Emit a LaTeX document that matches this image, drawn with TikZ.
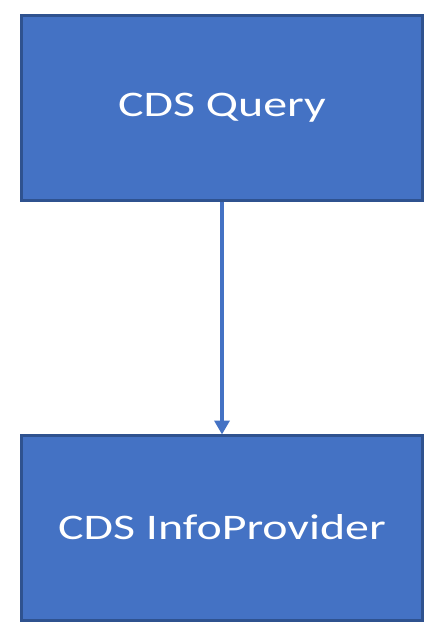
\documentclass[tikz,border=0pt]{standalone}
\usepackage{fontspec}
\setmainfont{Carlito}
\usetikzlibrary{arrows.meta}
\definecolor{boxfill}{HTML}{4472C4}
\definecolor{boxline}{HTML}{2F528F}
\newcommand{\widetext}[1]{\scalebox{1.33}[1]{#1}}
\tikzset{
  procbox/.style={draw=boxline, line width=3bp, fill=boxfill, text=white,
    minimum width=401bp, minimum height=185bp, inner sep=0pt,
    font=\fontsize{36bp}{43bp}\selectfont},
  link/.style={draw=boxfill, line width=4.5bp, -{Triangle[length=14bp,width=15bp]}, shorten >=-1bp}
}
\begin{document}
\begin{tikzpicture}[x=1bp,y=-1bp]
\useasboundingbox (0,0) rectangle (440,635);
\node[procbox] (q) at (222,108) {\widetext{CDS Query}};
\node[procbox] (p) at (222,527.5) {\widetext{CDS InfoProvider}};
\draw[link] (q.south) -- (p.north);
\end{tikzpicture}
\end{document}
